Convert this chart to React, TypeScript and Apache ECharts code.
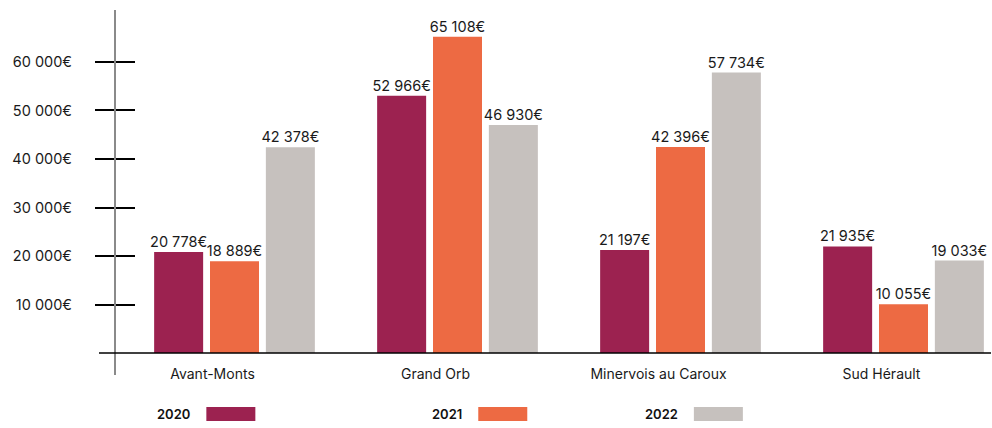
import React, { useEffect, useRef } from "react";
import * as echarts from "echarts";

const categories = ["Avant-Monts", "Grand Orb", "Minervois au Caroux", "Sud Hérault"];
const years = ["2020", "2021", "2022"];
const values2020 = [20778, 52966, 21197, 21935];
const values2021 = [18889, 65108, 42396, 10055];
const values2022 = [42378, 46930, 57734, 19033];
const yTickValues = [10000, 20000, 30000, 40000, 50000, 60000];
const colors = ["#9C2250", "#ED6A43", "#C6C1BE"];

const FONT = "Inter, 'Noto Sans', sans-serif";
const TEXT = "#1a1a1a";

function fmt(v: number): string {
  return String(Math.round(v)).replace(/\B(?=(\d{3})+(?!\d))/g, " ") + "€";
}

export default function App() {
  const ref = useRef<HTMLDivElement>(null);
  useEffect(() => {
    if (!ref.current) return;
    const chart = echarts.init(ref.current, null, { renderer: "svg" });
    const seriesData = [values2020, values2021, values2022];
    const legendLefts = [157, 432, 645];
    chart.setOption({
      animation: false,
      textStyle: { fontFamily: FONT },
      grid: {
        left: 123,
        right: -23,
        top: 13,
        bottom: 75,
        containLabel: false,
        outerBoundsMode: "none",
      },
      xAxis: {
        type: "category",
        data: categories,
        axisLine: { show: false },
        axisTick: { show: false },
        axisLabel: {
          color: TEXT,
          fontFamily: FONT,
          fontSize: 14,
          margin: 13,
          padding: [0, 44, 0, 0],
        },
      },
      yAxis: [
        {
          type: "value",
          min: 0,
          max: 70000,
          position: "left",
          offset: 8,
          splitLine: { show: false },
          axisLine: { show: false },
          axisTick: {
            show: true,
            inside: false,
            length: 20,
            customValues: yTickValues,
            lineStyle: { color: "#000", width: 2 },
          },
          axisLabel: {
            customValues: yTickValues,
            margin: 43,
            color: TEXT,
            fontFamily: FONT,
            fontSize: 14.5,
            formatter: (v: number) => fmt(v),
          },
        },
        {
          type: "value",
          min: 0,
          max: 70000,
          position: "left",
          offset: 8,
          splitLine: { show: false },
          axisLine: { show: false },
          axisTick: {
            show: true,
            inside: true,
            length: 20,
            customValues: yTickValues,
            lineStyle: { color: "#000", width: 2 },
          },
          axisLabel: { show: false },
        },
      ],
      legend: years.map((y, i) => ({
        data: [y],
        left: legendLefts[i],
        top: 407,
        padding: 0,
        align: "right",
        itemWidth: 49,
        itemHeight: 14,
        icon: "rect",
        textStyle: {
          color: "#111",
          fontFamily: FONT,
          fontSize: 13,
          fontWeight: 600,
          padding: [0, 11, 0, 0],
        },
      })),
      series: years.map((y, i) => ({
        name: y,
        type: "bar",
        yAxisIndex: 0,
        data: seriesData[i],
        barWidth: 49,
        barGap: "14%",
        itemStyle: { color: colors[i] },
        label: {
          show: true,
          position: "top",
          distance: 3,
          color: TEXT,
          fontFamily: FONT,
          fontSize: 14.5,
          formatter: (p: any) => fmt(p.value),
        },
      })),
      graphic: [
        {
          type: "line",
          shape: { x1: 115, y1: 10, x2: 115, y2: 375 },
          style: { stroke: "#8a8a8a", lineWidth: 2 },
          z: 10,
        },
        {
          type: "line",
          shape: { x1: 99, y1: 353, x2: 991, y2: 353 },
          style: { stroke: "#000", lineWidth: 1.5 },
          z: 10,
        },
      ],
    });
    return () => chart.dispose();
  }, []);
  return (
    <div
      ref={ref}
      style={{ position: "absolute", left: 0, top: 0, width: 992, height: 428 }}
    />
  );
}
